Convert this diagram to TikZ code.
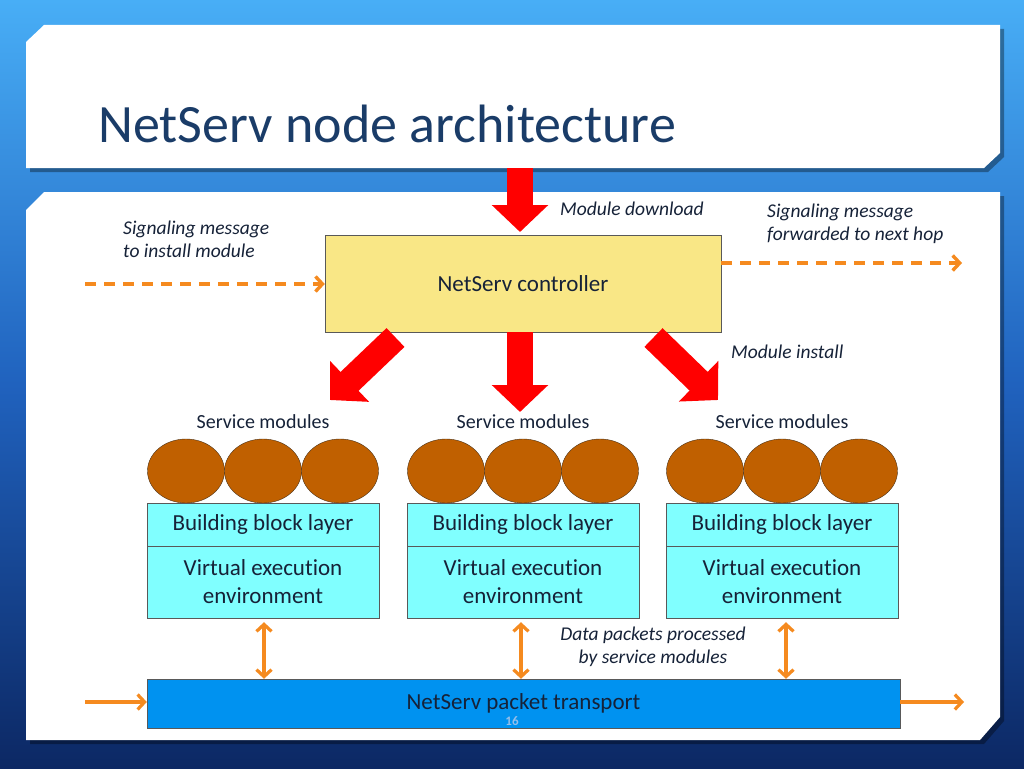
\documentclass[tikz,border=0pt]{standalone}
\usepackage{fontspec}
\setmainfont{Carlito}[Ligatures=NoCommon]
\usetikzlibrary{arrows.meta,shapes.geometric}
\definecolor{titleblue}{RGB}{26,60,104}
\definecolor{txt}{RGB}{22,34,56}
\definecolor{ctrlyellow}{RGB}{249,231,134}
\definecolor{layercyan}{RGB}{128,255,255}
\definecolor{modbrown}{RGB}{192,96,0}
\definecolor{transblue}{RGB}{0,146,240}
\definecolor{sigorange}{RGB}{245,138,31}
\definecolor{fatred}{RGB}{255,0,0}
\definecolor{bgtop}{RGB}{72,174,246}
\definecolor{bgmid}{RGB}{32,98,190}
\definecolor{bgbot}{RGB}{12,40,100}
\definecolor{pagenum}{RGB}{150,190,232}
\begin{document}
\begin{tikzpicture}[x=1pt,y=-1pt,
  bodyfont/.style={font=\fontsize{23}{28}\selectfont, text=txt},
  labelfont/.style={font=\fontsize{19.5}{23}\selectfont\itshape, text=txt},
  smallfont/.style={font=\fontsize{20}{24}\selectfont, text=txt},
  layerbox/.style={draw=black!65, fill=layercyan, minimum width=232pt, inner sep=0pt, align=center, bodyfont},
  modcircle/.style={ellipse, draw=black!60!brown, fill=modbrown, minimum width=77pt, minimum height=64pt, inner sep=0pt},
  fatarrow/.style={draw=fatred, line width=26pt, -{Triangle[length=27pt,width=55pt]}},
  sigarrow/.style={draw=sigorange, line width=3.4pt, dash pattern=on 11pt off 8pt, -{Straight Barb[length=7pt,width=15pt]}},
  pktarrow/.style={draw=sigorange, line width=3.2pt, -{Straight Barb[length=7pt,width=15pt]}},
  bipktarrow/.style={draw=sigorange, line width=3.2pt, {Straight Barb[length=7pt,width=15pt]}-{Straight Barb[length=7pt,width=15pt]}},
  panel/.style={fill=white},
  panelshadow/.style={fill=black, opacity=0.35}
]
\useasboundingbox (0,0) rectangle (1024,768);
% background
\shade[top color=bgtop, bottom color=bgbot, middle color=bgmid] (0,0) rectangle (1024,768);
% title panel
\fill[panelshadow] (30,46) -- (48,29) -- (1004,29) -- (1004,157) -- (988,172) -- (30,172) -- cycle;
\fill[panel] (26,42) -- (44,25) -- (1000,25) -- (1000,153) -- (984,168) -- (26,168) -- cycle;
\node[anchor=base west, inner sep=0pt, font=\fontsize{54}{60}\selectfont, text=titleblue] (title) at (98,142) {NetServ node architecture};
% main panel
\fill[panelshadow] (30,214) -- (48,196) -- (1004,196) -- (1004,721) -- (984,744) -- (30,744) -- cycle;
\fill[panel] (26,210) -- (44,192) -- (1000,192) -- (1000,717) -- (980,740) -- (26,740) -- cycle;

% controller
\node[draw=black!65, fill=ctrlyellow, minimum width=396pt, minimum height=97pt, inner sep=0pt, bodyfont] (ctrl) at (523,283.5) {NetServ controller};

% service module groups
\foreach \g/\cx in {1/263, 2/523, 3/782} {
  \node[smallfont, inner sep=0pt] (sm\g) at (\cx,422) {Service modules};
  \node[modcircle] (m\g a) at (\cx-77,471) {};
  \node[modcircle] (m\g b) at (\cx,471) {};
  \node[modcircle] (m\g c) at (\cx+77,471) {};
  \node[layerbox, minimum height=43pt] (bb\g) at (\cx,524.5) {Building block layer};
  \node[layerbox, minimum height=72pt] (vee\g) at (\cx,582) {Virtual execution\\environment};
}

% packet transport
\node[draw=black!65, fill=transblue, minimum width=753pt, minimum height=49pt, inner sep=0pt, bodyfont] (trans) at (523.5,703.5) {NetServ packet transport};
\node[font=\fontsize{13}{15}\selectfont\bfseries, text=pagenum, inner sep=0pt] (pnum) at (512,721) {16};

% fat red arrows
\coordinate (dlsrc) at (520,168);
\coordinate (dltip) at (520,232);
\draw[fatarrow] (dlsrc) -- (dltip);
\coordinate (c0) at (520,332);
\coordinate (c0tip) at (520,412);
\draw[fatarrow] (c0) -- (c0tip);
\coordinate (cl) at (395.5,337.5);
\coordinate (cltip) at (330,400);
\draw[fatarrow] (cl) -- (cltip);
\coordinate (cr) at (653.5,337.5);
\coordinate (crtip) at (718,400);
\draw[fatarrow] (cr) -- (crtip);

% signaling dashed arrows
\coordinate (sigin) at (85,284);
\draw[sigarrow] (sigin) -- (sigin -| ctrl.west);
\coordinate (sigout) at (962,263);
\draw[sigarrow] (sigout -| ctrl.east) -- (sigout);

% packet arrows
\coordinate (pin) at (85,702);
\draw[pktarrow] (pin) -- (pin -| trans.west);
\coordinate (pout) at (964,702);
\draw[pktarrow] (pout -| trans.east) -- (pout);
\draw[bipktarrow] ([xshift=1pt,yshift=-4pt]vee1.south) -- ([xshift=1pt]vee1.south |- trans.north);
\draw[bipktarrow] ([xshift=-2pt,yshift=-4pt]vee2.south) -- ([xshift=-2pt]vee2.south |- trans.north);
\draw[bipktarrow] ([xshift=4pt,yshift=-4pt]vee3.south) -- ([xshift=4pt]vee3.south |- trans.north);

% labels
\node[labelfont, anchor=west, align=left, inner sep=0pt] (lsigin) at (123,239) {Signaling message\\to install module};
\node[labelfont, anchor=west, inner sep=0pt] (ldl) at (560,209) {Module download};
\node[labelfont, anchor=west, align=left, inner sep=0pt] (lsigout) at (767,224) {Signaling message\\forwarded to next hop};
\node[labelfont, anchor=west, inner sep=0pt] (linst) at (731,352) {Module install};
\node[labelfont, align=center, inner sep=0pt] (ldata) at (653,647) {Data packets processed\\by service modules};
\end{tikzpicture}
\end{document}
